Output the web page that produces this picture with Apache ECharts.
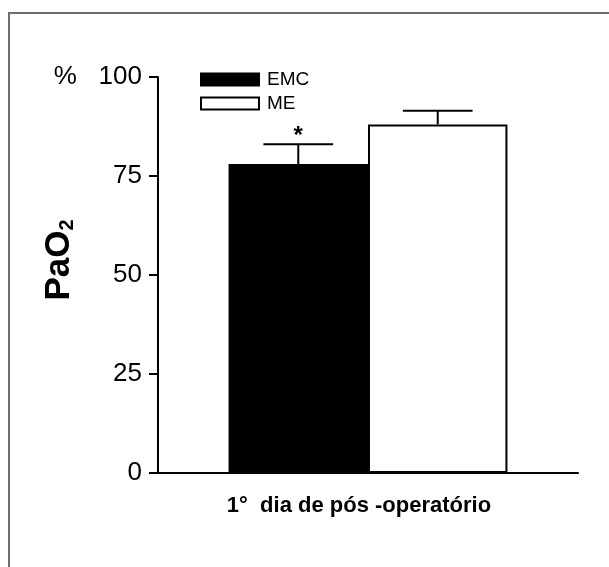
<!DOCTYPE html>
<html>
<head>
<meta charset="utf-8">
<script src="https://cdn.jsdelivr.net/npm/echarts@6/dist/echarts.min.js"></script>
<style>html,body{margin:0;padding:0;background:#fff;}#c{width:609px;height:567px;}</style>
</head>
<body>
<div id="c"></div>
<script>
const categories = ['1°  dia de pós -operatório'];
const seriesNames = ['EMC', 'ME'];
const meanEMC = [78];
const upperEMC = [83];
const meanME = [88];
const upperME = [91.5];
const marksEMC = ['*'];
const marksME = [''];
const yMin = 0, yMax = 100, yStep = 25;

const GAP = 0.336;
const FONT = '"Liberation Sans", Arial, sans-serif';
function errRender(groupIdx, nGroups) {
  return function (params, api) {
    const cat = api.value(0);
    const mean = api.value(1);
    const up = api.value(2);
    const mark = api.value(3);
    const band = api.size([1, 0])[0];
    const bw = band * (1 - GAP) / nGroups;
    const cx = api.coord([cat, 0])[0] - band * (1 - GAP) / 2 + bw * (groupIdx + 0.5);
    const pMean = api.coord([cat, mean])[1];
    const pUp = api.coord([cat, up])[1];
    const half = bw / 4;
    const st = { stroke: '#000', lineWidth: 2 };
    const children = [
      { type: 'line', shape: { x1: cx, y1: pMean, x2: cx, y2: pUp }, style: st },
      { type: 'line', shape: { x1: cx - half, y1: pUp, x2: cx + half, y2: pUp }, style: st }
    ];
    if (mark) {
      children.push({ type: 'text', style: { text: mark, x: cx, y: pUp - 8, align: 'center', verticalAlign: 'middle',
        font: 'bold 24px ' + FONT, fill: '#000' } });
    }
    return { type: 'group', children };
  };
}

const chart = echarts.init(document.getElementById('c'), null, { renderer: 'canvas' });
chart.setOption({
  backgroundColor: '#fff',
  animation: false,
  graphic: [{ type: 'rect', shape: { x: 9, y: 13, width: 700, height: 700 }, style: { fill: 'none', stroke: '#6e6e6e', lineWidth: 2 }, silent: true }],
  grid: { left: 158, right: 31, top: 77, bottom: 94, containLabel: false },
  legend: {
    orient: 'vertical', left: 200, top: 70, padding: 0, itemWidth: 58, itemHeight: 12, itemGap: 5,
    icon: 'rect', data: seriesNames,
    textStyle: { fontFamily: FONT, fontSize: 19, lineHeight: 18, color: '#000', padding: [0, 0, 0, 3] }
  },
  xAxis: {
    type: 'category', data: categories,
    axisLine: { lineStyle: { color: '#000', width: 2 } },
    axisTick: { show: false },
    axisLabel: { color: '#000', fontFamily: FONT, fontWeight: 'bold', fontSize: 22, margin: 22, padding: [0, 18, 0, 0] }
  },
  yAxis: {
    type: 'value', min: yMin, max: yMax, interval: yStep,
    name: '{a|PaO}{b|2}', nameLocation: 'middle', nameRotate: 90, nameGap: 81, nameMoveOverlap: false,
    nameTextStyle: { rich: {
      a: { fontFamily: FONT, fontWeight: 'bold', fontSize: 35, color: '#000' },
      b: { fontFamily: FONT, fontWeight: 'bold', fontSize: 20, color: '#000', verticalAlign: 'bottom', padding: [16, 0, 0, 0] }
    }, padding: [0, 0, 0, 30] },
    axisLine: { show: true, lineStyle: { color: '#000', width: 2 } },
    axisTick: { show: true, length: 9, lineStyle: { color: '#000', width: 2 } },
    splitLine: { show: false },
    axisLabel: { color: '#000', fontFamily: FONT, fontSize: 26, margin: 16,
      formatter: v => v === yMax ? '%   ' + v : String(v) }
  },
  series: [
    { name: seriesNames[0], type: 'bar', data: meanEMC, barGap: '0%', barCategoryGap: (GAP * 100) + '%',
      itemStyle: { color: '#000', borderColor: '#000', borderWidth: 2 } },
    { name: seriesNames[1], type: 'bar', data: meanME, barGap: '0%', barCategoryGap: (GAP * 100) + '%',
      itemStyle: { color: '#fff', borderColor: '#000', borderWidth: 2 } },
    { type: 'custom', renderItem: errRender(0, 2), data: meanEMC.map((m, i) => [i, m, upperEMC[i], marksEMC[i]]), z: 5, silent: true },
    { type: 'custom', renderItem: errRender(1, 2), data: meanME.map((m, i) => [i, m, upperME[i], marksME[i]]), z: 5, silent: true }
  ]
});
</script>
</body>
</html>
